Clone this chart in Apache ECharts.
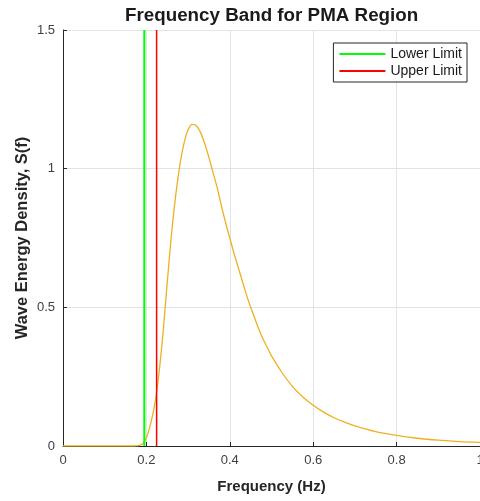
<!DOCTYPE html>
<html>
<head>
<meta charset="utf-8">
<script src="https://cdn.jsdelivr.net/npm/echarts@6/dist/echarts.min.js"></script>
<style>
  html, body { margin: 0; padding: 0; background: #fff; }
  #chart1 { width: 480px; height: 501px; }
</style>
</head>
<body>
<div id="chart1"></div>
<script>
// spectrum: frequency (Hz) and S(f)
var freq = [0, 0.1, 0.17, 0.18, 0.19, 0.2, 0.21, 0.22, 0.23, 0.24, 0.25, 0.26, 0.27, 0.28, 0.29,
	0.3, 0.31, 0.32, 0.33, 0.34, 0.35, 0.36, 0.37, 0.38, 0.39, 0.4,
	0.41, 0.42, 0.43, 0.44, 0.45, 0.46, 0.47, 0.48, 0.49, 0.5,
	0.525, 0.55, 0.575, 0.6, 0.625, 0.65, 0.675, 0.7,
	0.75, 0.8, 0.85, 0.9, 0.95, 1.0];
var density = [0, 0, 0, 0.001, 0.006, 0.03, 0.08, 0.15, 0.26, 0.41, 0.59, 0.76, 0.9, 1.01, 1.09,
	1.14, 1.16, 1.155, 1.13, 1.09, 1.04, 0.985, 0.93, 0.865, 0.805, 0.75,
	0.695, 0.645, 0.595, 0.545, 0.5, 0.46, 0.42, 0.385, 0.355, 0.325,
	0.265, 0.215, 0.177, 0.147, 0.122, 0.102, 0.086, 0.073,
	0.052, 0.038, 0.028, 0.021, 0.016, 0.013];
var lowerLimit = 0.195;
var upperLimit = 0.2245;
var yRange = [0, 1.5];
var legendNames = ['Lower Limit', 'Upper Limit'];

var myChart = echarts.init(document.getElementById("chart1"));

function pairs(xs, ys) {
	var d = [];
	for (var i = 0; i < xs.length; i++) {
		d.push([xs[i], ys[i]]);
	}
	return d;
}

var axisColor = '#262626';
var labelStyle = { color: '#404040', fontSize: 13, fontFamily: 'Liberation Sans, Arial' };

var option = {
	animation: false,
	title: {
		text: 'Frequency Band for PMA Region',
		left: 125,
		top: 6,
		padding: 0,
		textStyle: { fontSize: 18.8, fontWeight: 'bold', color: '#1a1a1a', fontFamily: 'Liberation Sans, Arial' }
	},
	grid: { left: 63, right: 0, top: 30, bottom: 55, outerBoundsMode: 'none' },
	legend: {
		data: legendNames,
		orient: 'vertical',
		right: 13,
		top: 43,
		itemWidth: 46,
		itemHeight: 2,
		itemGap: 3,
		icon: 'rect',
		padding: [4, 5, 4, 6],
		borderColor: axisColor,
		borderWidth: 1,
		backgroundColor: '#fff',
		textStyle: { fontSize: 14, color: '#1a1a1a', fontFamily: 'Liberation Sans, Arial' }
	},
	xAxis: {
		type: 'value',
		min: 0,
		max: 1,
		interval: 0.2,
		name: 'Frequency (Hz)',
		nameLocation: 'middle',
		nameGap: 33,
		nameTextStyle: { fontSize: 15, fontWeight: 'bold', color: '#262626', fontFamily: 'Liberation Sans, Arial' },
		axisLine: { lineStyle: { color: axisColor, width: 1 } },
		axisTick: { inside: true, length: 4, lineStyle: { color: axisColor } },
		axisLabel: labelStyle,
		splitLine: { show: true, lineStyle: { color: '#e3e3e3', width: 1 } }
	},
	yAxis: {
		type: 'value',
		min: yRange[0],
		max: yRange[1],
		interval: 0.5,
		name: 'Wave Energy Density, S(f)',
		nameLocation: 'middle',
		nameGap: 32,
		nameRotate: 90,
		nameMoveOverlap: false,
		nameTextStyle: { fontSize: 16.5, fontWeight: 'bold', color: '#262626', fontFamily: 'Liberation Sans, Arial' },
		axisLine: { show: true, lineStyle: { color: axisColor, width: 1 } },
		axisTick: { show: true, inside: true, length: 4, lineStyle: { color: axisColor } },
		axisLabel: labelStyle,
		splitLine: { show: true, lineStyle: { color: '#e3e3e3', width: 1 } }
	},
	series: [{
		name: 'S(f)',
		type: 'line',
		data: pairs(freq, density),
		smooth: 0.3,
		showSymbol: false,
		lineStyle: { color: '#EDB120', width: 1.3 },
		itemStyle: { color: '#EDB120' }
	}, {
		name: legendNames[0],
		type: 'line',
		data: [[lowerLimit, yRange[0]], [lowerLimit, yRange[1]]],
		showSymbol: false,
		lineStyle: { color: '#00ff00', width: 2 },
		itemStyle: { color: '#00ff00' }
	}, {
		name: legendNames[1],
		type: 'line',
		data: [[upperLimit, yRange[0]], [upperLimit, yRange[1]]],
		showSymbol: false,
		lineStyle: { color: '#ff0000', width: 1.5 },
		itemStyle: { color: '#ff0000' }
	}]
};
myChart.setOption(option);
</script>
</body>
</html>
